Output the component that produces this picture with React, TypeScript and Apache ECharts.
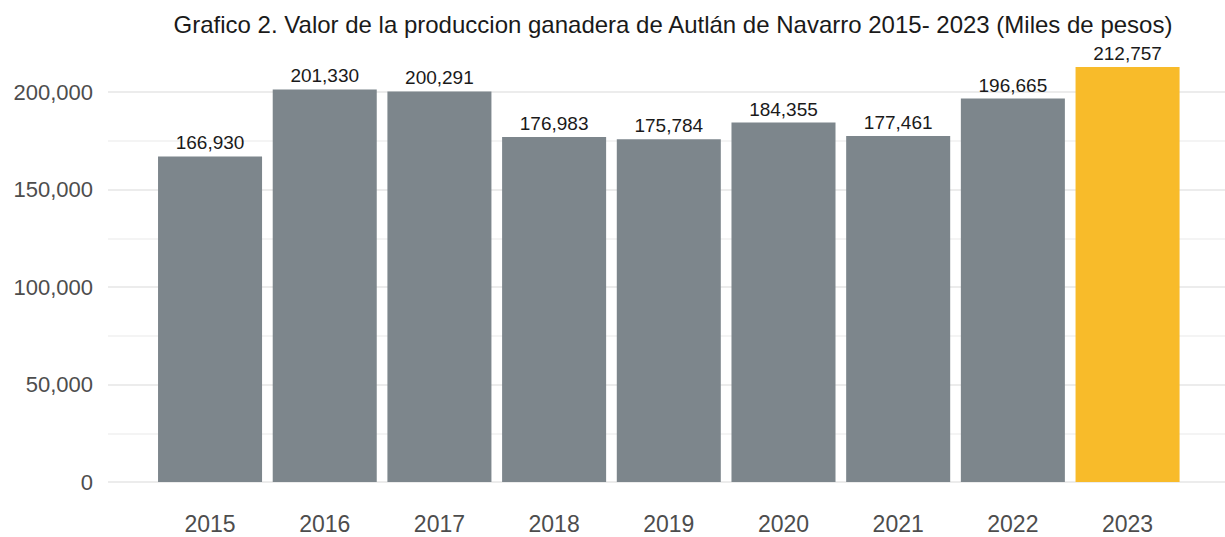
import React, { useEffect, useRef } from "react";
import * as echarts from "echarts";

const years = ["2015", "2016", "2017", "2018", "2019", "2020", "2021", "2022", "2023"];
const values = [166930, 201330, 200291, 176983, 175784, 184355, 177461, 196665, 212757];
const barColors = ["#7d868c", "#7d868c", "#7d868c", "#7d868c", "#7d868c", "#7d868c", "#7d868c", "#7d868c", "#f8bb2a"];
const titleText = "Grafico 2. Valor de la produccion ganadera de Autlán de Navarro 2015- 2023 (Miles de pesos)";

const FONT = "'Liberation Sans', Arial, sans-serif";
const Y_MAX = 225000;

export default function App() {
  const ref = useRef<HTMLDivElement>(null);
  useEffect(() => {
    document.body.style.margin = "0";
    if (!ref.current) return;
    const chart = echarts.init(ref.current, undefined, { renderer: "svg" });
    const fmt = (v: number) => v.toLocaleString("en-US");
    chart.setOption({
      animation: false,
      backgroundColor: "#ffffff",
      title: {
        text: titleText,
        left: 668,
        top: 7,
        textAlign: "center",
        textStyle: { fontFamily: FONT, fontSize: 24, fontWeight: "normal", color: "#1a1a1a" },
      },
      grid: [
        { left: 108, right: 0, top: 43.25, bottom: 55, containLabel: false },
        { left: 152.7, width: 1032.2, top: 43.25, bottom: 55, containLabel: false },
      ],
      xAxis: [
        { type: "value", gridIndex: 0, min: 0, max: 1, show: false },
        {
          type: "category",
          gridIndex: 1,
          data: years,
          axisLine: { show: false },
          axisTick: { show: false },
          axisLabel: { fontFamily: FONT, fontSize: 23, color: "#4d4d4d", margin: 30 },
        },
      ],
      yAxis: [
        {
          type: "value",
          gridIndex: 0,
          min: 0,
          max: Y_MAX,
          interval: 25000,
          axisLine: { show: false },
          axisTick: { show: false },
          axisLabel: {
            fontFamily: FONT,
            fontSize: 22,
            color: "#4d4d4d",
            margin: 15,
            formatter: (v: number) => (v % 50000 === 0 && v < Y_MAX ? fmt(v) : ""),
          },
          splitLine: {
            show: true,
            showMaxLine: false,
            lineStyle: { color: ["#e6e6e6", "#f0f0f0"], width: 1.5 },
          },
        },
        {
          type: "value",
          gridIndex: 1,
          min: 0,
          max: Y_MAX,
          show: false,
          splitLine: { show: false },
        },
      ],
      series: [
        {
          type: "bar",
          xAxisIndex: 1,
          yAxisIndex: 1,
          barWidth: "90.7%",
          data: values.map((v, i) => ({ value: v, itemStyle: { color: barColors[i] } })),
          label: {
            show: true,
            position: "top",
            distance: 4,
            fontFamily: FONT,
            fontSize: 19,
            color: "#1a1a1a",
            formatter: (p: any) => fmt(p.value),
          },
        },
      ],
    });
    return () => chart.dispose();
  }, []);
  return <div ref={ref} style={{ width: 1225, height: 537 }} />;
}
